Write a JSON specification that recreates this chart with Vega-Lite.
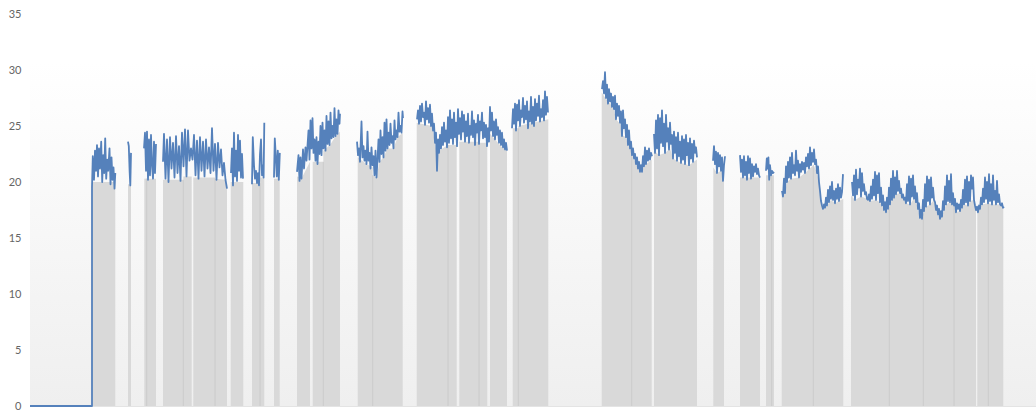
{
"$schema": "https://vega.github.io/schema/vega-lite/v6.json",
"width": 1006, "height": 392,
"autosize": {"type": "none"},
"padding": {"left": 30, "top": 14, "right": 0, "bottom": 4},
"background": "#ffffff",
"config": {"view": {"stroke": null}, "axis": {"labelFont": "Lato", "labelFontSize": 11, "labelColor": "#666666"}},
"datasets": {
"grey": [
{"b":1,"x":62,"g":20.0},{"b":1,"x":85.3,"g":20.0},
{"b":2,"x":98,"g":19.8},{"b":2,"x":101,"g":19.8},
{"b":3,"x":114.3,"g":20.3},{"b":3,"x":116.7,"g":20.3},
{"b":4,"x":116.7,"g":20.3},{"b":4,"x":126,"g":20.3},
{"b":5,"x":133,"g":20.2},{"b":5,"x":153.3,"g":20.2},
{"b":6,"x":153.3,"g":20.5},{"b":6,"x":161.7,"g":20.5},
{"b":7,"x":163.3,"g":20.4},{"b":7,"x":185,"g":20.4},
{"b":8,"x":185,"g":20.3},{"b":8,"x":195,"g":20.2},{"b":8,"x":197,"g":19.4},
{"b":9,"x":200.7,"g":20.0},{"b":9,"x":213.3,"g":20.0},
{"b":10,"x":222,"g":19.9},{"b":10,"x":230,"g":19.9},
{"b":11,"x":230,"g":20.4},{"b":11,"x":234.3,"g":20.4},
{"b":12,"x":244,"g":20.3},{"b":12,"x":249.7,"g":20.3},
{"b":13,"x":267,"g":20.5},{"b":13,"x":272,"g":20.4},{"b":13,"x":280,"g":21.8},
{"b":14,"x":282.7,"g":21.8},{"b":14,"x":293.3,"g":21.8},
{"b":15,"x":293.3,"g":22.8},{"b":15,"x":300,"g":23.3},{"b":15,"x":305,"g":24.0},{"b":15,"x":310,"g":24.5},
{"b":16,"x":327.7,"g":22.2},{"b":16,"x":335,"g":21.7},{"b":16,"x":342.7,"g":21.3},
{"b":17,"x":342.7,"g":20.6},{"b":17,"x":346.5,"g":20.4},{"b":17,"x":349.5,"g":21.8},{"b":17,"x":353.5,"g":22.2},{"b":17,"x":357.5,"g":23.0},{"b":17,"x":363.5,"g":23.0},{"b":17,"x":367.5,"g":24.0},{"b":17,"x":372.7,"g":24.4},
{"b":18,"x":386.7,"g":25.3},{"b":18,"x":402,"g":25.0},{"b":18,"x":404,"g":24.0},{"b":18,"x":406,"g":23.0},{"b":18,"x":409,"g":22.8},{"b":18,"x":418,"g":23.3},
{"b":19,"x":418,"g":23.3},{"b":19,"x":426.7,"g":23.3},
{"b":20,"x":429.3,"g":23.6},{"b":20,"x":449,"g":23.6},
{"b":21,"x":449,"g":23.5},{"b":21,"x":457.3,"g":23.5},
{"b":22,"x":460,"g":24.3},{"b":22,"x":465,"g":23.8},{"b":22,"x":471,"g":23.2},{"b":22,"x":477,"g":22.8},
{"b":23,"x":482.7,"g":24.8},{"b":23,"x":488.3,"g":24.8},
{"b":24,"x":488.3,"g":25.0},{"b":24,"x":518.3,"g":25.6},
{"b":25,"x":571.7,"g":28.0},{"b":25,"x":576,"g":27.4},{"b":25,"x":580,"g":27.0},{"b":25,"x":584,"g":26.4},{"b":25,"x":586,"g":25.6},{"b":25,"x":590,"g":25.2},{"b":25,"x":592,"g":24.2},{"b":25,"x":596,"g":24.0},{"b":25,"x":598,"g":23.3},{"b":25,"x":601.7,"g":22.8},
{"b":26,"x":601.7,"g":22.4},{"b":26,"x":604,"g":22.0},{"b":26,"x":606,"g":21.6},{"b":26,"x":608,"g":21.2},{"b":26,"x":610,"g":20.9},{"b":26,"x":612,"g":20.9},{"b":26,"x":614,"g":21.4},{"b":26,"x":621.7,"g":22.0},
{"b":27,"x":624,"g":22.8},{"b":27,"x":629,"g":22.4},{"b":27,"x":635,"g":22.6},{"b":27,"x":640,"g":23.0},{"b":27,"x":643,"g":22.1},{"b":27,"x":647,"g":21.9},{"b":27,"x":651,"g":21.7},{"b":27,"x":655,"g":21.6},{"b":27,"x":659,"g":21.5},{"b":27,"x":667,"g":22.0},
{"b":28,"x":683.3,"g":21.3},{"b":28,"x":687,"g":20.8},{"b":28,"x":691,"g":21.0},{"b":28,"x":694,"g":20.5},
{"b":29,"x":710,"g":20.4},{"b":29,"x":730,"g":20.4},
{"b":30,"x":736,"g":20.6},{"b":30,"x":741.7,"g":20.6},
{"b":31,"x":741.7,"g":20.6},{"b":31,"x":744,"g":20.6},
{"b":32,"x":751.7,"g":18.8},{"b":32,"x":755,"g":19.0},{"b":32,"x":757,"g":20.0},{"b":32,"x":761,"g":20.3},{"b":32,"x":769,"g":20.4},{"b":32,"x":775,"g":20.8},{"b":32,"x":783.3,"g":21.5},
{"b":33,"x":783.3,"g":21.6},{"b":33,"x":787,"g":20.8},{"b":33,"x":789,"g":20.0},{"b":33,"x":791,"g":18.3},{"b":33,"x":793,"g":17.6},{"b":33,"x":797,"g":17.9},{"b":33,"x":801,"g":18.4},{"b":33,"x":805,"g":18.1},{"b":33,"x":813.3,"g":18.5},
{"b":34,"x":821,"g":18.8},{"b":34,"x":825,"g":18.4},{"b":34,"x":831,"g":18.7},{"b":34,"x":837,"g":18.5},{"b":34,"x":840,"g":18.3},{"b":34,"x":846,"g":18.4},{"b":34,"x":850,"g":18.2},{"b":34,"x":854,"g":17.5},{"b":34,"x":856,"g":17.3},{"b":34,"x":859.3,"g":17.8},
{"b":35,"x":859.3,"g":18.0},{"b":35,"x":862,"g":18.4},{"b":35,"x":866,"g":18.9},{"b":35,"x":870,"g":19.0},{"b":35,"x":874,"g":18.4},{"b":35,"x":876,"g":18.1},{"b":35,"x":880,"g":18.0},{"b":35,"x":884,"g":18.5},{"b":35,"x":886,"g":18.2},{"b":35,"x":888,"g":17.6},{"b":35,"x":890,"g":16.8},{"b":35,"x":892,"g":16.7},{"b":35,"x":893.3,"g":17.2},
{"b":36,"x":893.3,"g":17.4},{"b":36,"x":896,"g":17.8},{"b":36,"x":900,"g":18.0},{"b":36,"x":904,"g":18.4},{"b":36,"x":906,"g":17.5},{"b":36,"x":908,"g":17.1},{"b":36,"x":910,"g":16.7},{"b":36,"x":912,"g":16.9},{"b":36,"x":916,"g":18.0},{"b":36,"x":920,"g":18.2},{"b":36,"x":924,"g":17.9},
{"b":37,"x":924,"g":17.9},{"b":37,"x":926,"g":17.3},{"b":37,"x":930,"g":17.4},{"b":37,"x":934,"g":18.0},{"b":37,"x":938,"g":17.9},{"b":37,"x":940,"g":18.3},{"b":37,"x":944,"g":18.4},{"b":37,"x":946,"g":17.5},
{"b":38,"x":947.3,"g":17.8},{"b":38,"x":948,"g":17.3},{"b":38,"x":952,"g":18.0},{"b":38,"x":958.3,"g":18.1},
{"b":39,"x":958.3,"g":18.1},{"b":39,"x":962,"g":18.0},{"b":39,"x":966,"g":18.0},{"b":39,"x":970,"g":18.0},{"b":39,"x":973.3,"g":17.7}
],
"div": [
{"x":116.7,"g":20.3},{"x":153.3,"g":20.2},{"x":185,"g":20.3},{"x":230,"g":19.9},{"x":293.3,"g":21.8},{"x":342.7,"g":20.6},{"x":418,"g":23.3},{"x":449,"g":23.5},{"x":488.3,"g":24.8},{"x":601.7,"g":22.4},{"x":741.7,"g":20.6},{"x":783.3,"g":21.5},{"x":859.3,"g":17.8},{"x":893.3,"g":17.2},{"x":924,"g":17.9},{"x":958.3,"g":18.1}
],
"line": [
{"s":1,"x":0,"y":0},{"s":1,"x":62,"y":0},{"s":1,"x":62,"y":19.5},{"s":1,"x":62.8,"y":22.3},{"s":1,"x":64,"y":20.2},{"s":1,"x":65,"y":22.8},{"s":1,"x":66,"y":21.0},{"s":1,"x":67,"y":23.3},{"s":1,"x":68,"y":20.5},{"s":1,"x":69,"y":23.0},{"s":1,"x":70,"y":21.2},{"s":1,"x":71.2,"y":23.6},{"s":1,"x":72.2,"y":20.0},{"s":1,"x":73.2,"y":22.4},{"s":1,"x":74.2,"y":20.8},{"s":1,"x":75.2,"y":23.9},{"s":1,"x":76.2,"y":20.3},{"s":1,"x":77.2,"y":22.0},{"s":1,"x":78.2,"y":21.0},{"s":1,"x":79.5,"y":23.0},{"s":1,"x":80.5,"y":19.8},{"s":1,"x":81.5,"y":22.2},{"s":1,"x":82.5,"y":20.2},{"s":1,"x":83.5,"y":21.3},{"s":1,"x":84.5,"y":19.4},{"s":1,"x":85.3,"y":20.8},
{"s":2,"x":98,"y":23.6},{"s":2,"x":98.8,"y":23.2},{"s":2,"x":99.6,"y":21.0},{"s":2,"x":100.3,"y":19.7},{"s":2,"x":101,"y":22.6},
{"s":3,"x":114,"y":23.0},{"s":3,"x":115,"y":24.4},{"s":3,"x":116,"y":21.0},{"s":3,"x":117,"y":24.5},{"s":3,"x":118,"y":20.2},{"s":3,"x":119,"y":23.8},{"s":3,"x":120,"y":20.6},{"s":3,"x":121,"y":24.2},{"s":3,"x":122,"y":21.5},{"s":3,"x":123,"y":20.3},{"s":3,"x":124,"y":23.6},{"s":3,"x":125,"y":20.8},{"s":3,"x":126,"y":23.4},
{"s":4,"x":133,"y":21.8},{"s":4,"x":134,"y":24.3},{"s":4,"x":135.5,"y":20.3},{"s":4,"x":137,"y":23.8},{"s":4,"x":138.5,"y":20.0},{"s":4,"x":140,"y":24.0},{"s":4,"x":141.5,"y":21.2},{"s":4,"x":143,"y":23.5},{"s":4,"x":144.5,"y":20.4},{"s":4,"x":146,"y":24.1},{"s":4,"x":147.5,"y":20.8},{"s":4,"x":149,"y":23.2},{"s":4,"x":150.5,"y":20.1},{"s":4,"x":152,"y":24.4},{"s":4,"x":153.5,"y":21.4},{"s":4,"x":155,"y":24.7},{"s":4,"x":156.5,"y":20.5},{"s":4,"x":158,"y":24.6},{"s":4,"x":159.5,"y":21.9},{"s":4,"x":161,"y":23.0},{"s":4,"x":162.5,"y":22.0},{"s":4,"x":164,"y":24.2},{"s":4,"x":165.5,"y":20.6},{"s":4,"x":167,"y":23.7},{"s":4,"x":168.5,"y":20.3},{"s":4,"x":170,"y":24.0},{"s":4,"x":171.5,"y":21.0},{"s":4,"x":173,"y":23.6},{"s":4,"x":174.5,"y":20.5},{"s":4,"x":176,"y":23.8},{"s":4,"x":177.5,"y":21.2},{"s":4,"x":179,"y":23.1},{"s":4,"x":180.5,"y":20.8},{"s":4,"x":182,"y":24.8},{"s":4,"x":183.5,"y":21.0},{"s":4,"x":185,"y":23.4},{"s":4,"x":186.5,"y":20.2},{"s":4,"x":188,"y":23.5},{"s":4,"x":189.5,"y":21.3},{"s":4,"x":191,"y":22.9},{"s":4,"x":192.5,"y":20.6},{"s":4,"x":194,"y":21.7},{"s":4,"x":195.5,"y":20.2},{"s":4,"x":197,"y":19.4},
{"s":5,"x":201,"y":20.8},{"s":5,"x":202,"y":23.0},{"s":5,"x":203,"y":19.7},{"s":5,"x":204,"y":24.4},{"s":5,"x":205,"y":20.5},{"s":5,"x":206,"y":22.8},{"s":5,"x":207,"y":20.1},{"s":5,"x":208,"y":24.2},{"s":5,"x":209,"y":21.0},{"s":5,"x":210,"y":23.7},{"s":5,"x":211,"y":20.4},{"s":5,"x":212,"y":22.5},{"s":5,"x":213,"y":20.3},
{"s":6,"x":222,"y":19.8},{"s":6,"x":222.8,"y":24.0},{"s":6,"x":224,"y":21.5},{"s":6,"x":225,"y":20.3},{"s":6,"x":226,"y":21.0},{"s":6,"x":227,"y":19.9},{"s":6,"x":228,"y":20.8},{"s":6,"x":229,"y":19.7},{"s":6,"x":230,"y":22.5},{"s":6,"x":231,"y":23.8},{"s":6,"x":232,"y":20.6},{"s":6,"x":233,"y":21.5},{"s":6,"x":233.6,"y":20.4},{"s":6,"x":234.3,"y":25.3},
{"s":7,"x":244,"y":20.4},{"s":7,"x":244.8,"y":23.9},{"s":7,"x":245.8,"y":22.3},{"s":7,"x":246.8,"y":20.5},{"s":7,"x":247.8,"y":22.8},{"s":7,"x":248.8,"y":20.2},{"s":7,"x":249.8,"y":22.6},
{"s":8,"x":267,"y":20.9},{"s":8,"x":268.5,"y":22.4},{"s":8,"x":269.5,"y":20.1},{"s":8,"x":270.5,"y":22.2},{"s":8,"x":271.5,"y":20.3},{"s":8,"x":273,"y":22.9},{"s":8,"x":274,"y":21.2},{"s":8,"x":275.5,"y":23.1},{"s":8,"x":276.5,"y":21.9},{"s":8,"x":278.5,"y":24.6},{"s":8,"x":279.5,"y":22.0},{"s":8,"x":280.5,"y":25.5},{"s":8,"x":281.5,"y":23.0},{"s":8,"x":282.5,"y":25.7},{"s":8,"x":283.5,"y":22.6},{"s":8,"x":284.5,"y":23.8},{"s":8,"x":285.5,"y":21.9},{"s":8,"x":286.5,"y":24.0},{"s":8,"x":287.5,"y":21.6},{"s":8,"x":288.5,"y":23.6},{"s":8,"x":289.5,"y":22.5},{"s":8,"x":290.5,"y":25.0},{"s":8,"x":291.5,"y":22.4},{"s":8,"x":292.5,"y":25.3},{"s":8,"x":293.5,"y":23.0},{"s":8,"x":294.5,"y":24.6},{"s":8,"x":295.5,"y":22.8},{"s":8,"x":296.5,"y":25.9},{"s":8,"x":297.5,"y":23.4},{"s":8,"x":298.5,"y":25.4},{"s":8,"x":299.5,"y":23.3},{"s":8,"x":300.5,"y":26.2},{"s":8,"x":301.5,"y":23.9},{"s":8,"x":302.5,"y":25.0},{"s":8,"x":303.5,"y":24.0},{"s":8,"x":304.5,"y":26.6},{"s":8,"x":305.5,"y":24.1},{"s":8,"x":306.5,"y":25.6},{"s":8,"x":307.5,"y":24.3},{"s":8,"x":308.5,"y":26.4},{"s":8,"x":309.5,"y":25.2},{"s":8,"x":310,"y":26.1},
{"s":9,"x":327,"y":23.6},{"s":9,"x":328,"y":22.4},{"s":9,"x":329,"y":23.0},{"s":9,"x":330,"y":21.8},{"s":9,"x":331.5,"y":25.4},{"s":9,"x":332.5,"y":22.2},{"s":9,"x":333.5,"y":23.2},{"s":9,"x":334.5,"y":21.9},{"s":9,"x":335.5,"y":22.8},{"s":9,"x":336.5,"y":21.6},{"s":9,"x":337.5,"y":24.5},{"s":9,"x":338.5,"y":21.9},{"s":9,"x":339.5,"y":22.6},{"s":9,"x":340.5,"y":21.2},{"s":9,"x":341.5,"y":23.1},{"s":9,"x":342.5,"y":21.5},{"s":9,"x":343.5,"y":22.3},{"s":9,"x":344.5,"y":20.6},{"s":9,"x":345.5,"y":22.8},{"s":9,"x":346.5,"y":20.4},{"s":9,"x":347.5,"y":22.0},{"s":9,"x":348.5,"y":23.8},{"s":9,"x":349.5,"y":21.8},{"s":9,"x":350.5,"y":24.6},{"s":9,"x":351.5,"y":22.5},{"s":9,"x":352.5,"y":24.0},{"s":9,"x":353.5,"y":22.2},{"s":9,"x":354.5,"y":25.3},{"s":9,"x":355.5,"y":22.8},{"s":9,"x":356.5,"y":25.6},{"s":9,"x":357.5,"y":23.0},{"s":9,"x":358.5,"y":24.4},{"s":9,"x":359.5,"y":23.3},{"s":9,"x":360.5,"y":25.2},{"s":9,"x":361.5,"y":23.5},{"s":9,"x":362.5,"y":24.1},{"s":9,"x":363.5,"y":23.0},{"s":9,"x":364.5,"y":25.5},{"s":9,"x":365.5,"y":23.8},{"s":9,"x":366.5,"y":24.6},{"s":9,"x":367.5,"y":24.0},{"s":9,"x":368.5,"y":26.2},{"s":9,"x":369.5,"y":24.5},{"s":9,"x":370.5,"y":25.0},{"s":9,"x":371.5,"y":24.4},{"s":9,"x":372.5,"y":26.3},{"s":9,"x":373,"y":25.7},
{"s":10,"x":387,"y":25.6},{"s":10,"x":388,"y":26.4},{"s":10,"x":389,"y":25.2},{"s":10,"x":390,"y":26.8},{"s":10,"x":391,"y":25.4},{"s":10,"x":392,"y":27.0},{"s":10,"x":393,"y":25.8},{"s":10,"x":394,"y":26.2},{"s":10,"x":395,"y":25.1},{"s":10,"x":396,"y":27.2},{"s":10,"x":397,"y":25.6},{"s":10,"x":398,"y":26.6},{"s":10,"x":399,"y":25.3},{"s":10,"x":400,"y":26.9},{"s":10,"x":401,"y":25.0},{"s":10,"x":402,"y":26.1},{"s":10,"x":403,"y":24.6},{"s":10,"x":404,"y":25.2},{"s":10,"x":405,"y":23.5},{"s":10,"x":406,"y":24.4},{"s":10,"x":407,"y":21.0},{"s":10,"x":408,"y":23.8},{"s":10,"x":409,"y":22.6},{"s":10,"x":410,"y":24.2},{"s":10,"x":411,"y":23.0},{"s":10,"x":412,"y":24.9},{"s":10,"x":413,"y":23.3},{"s":10,"x":414,"y":25.3},{"s":10,"x":415,"y":23.6},{"s":10,"x":416,"y":24.6},{"s":10,"x":417,"y":23.1},{"s":10,"x":418,"y":25.8},{"s":10,"x":419,"y":23.5},{"s":10,"x":420,"y":26.4},{"s":10,"x":421,"y":23.9},{"s":10,"x":422,"y":25.6},{"s":10,"x":423,"y":23.4},{"s":10,"x":424,"y":26.2},{"s":10,"x":425,"y":24.0},{"s":10,"x":426,"y":25.3},{"s":10,"x":427,"y":23.2},{"s":10,"x":428,"y":26.5},{"s":10,"x":429,"y":24.3},{"s":10,"x":430,"y":25.7},{"s":10,"x":431,"y":23.8},{"s":10,"x":432,"y":26.3},{"s":10,"x":433,"y":24.5},{"s":10,"x":434,"y":26.0},{"s":10,"x":435,"y":23.6},{"s":10,"x":436,"y":25.4},{"s":10,"x":437,"y":24.1},{"s":10,"x":438,"y":26.1},{"s":10,"x":439,"y":23.5},{"s":10,"x":440,"y":25.0},{"s":10,"x":441,"y":24.2},{"s":10,"x":442,"y":26.3},{"s":10,"x":443,"y":24.0},{"s":10,"x":444,"y":25.5},{"s":10,"x":445,"y":23.3},{"s":10,"x":446,"y":25.2},{"s":10,"x":447,"y":24.4},{"s":10,"x":448,"y":26.0},{"s":10,"x":449,"y":23.4},{"s":10,"x":450,"y":25.4},{"s":10,"x":451,"y":24.6},{"s":10,"x":452,"y":26.2},{"s":10,"x":453,"y":23.9},{"s":10,"x":454,"y":25.3},{"s":10,"x":455,"y":24.0},{"s":10,"x":456,"y":25.1},{"s":10,"x":457,"y":23.2},{"s":10,"x":458,"y":24.8},{"s":10,"x":459,"y":23.6},{"s":10,"x":460,"y":26.7},{"s":10,"x":461,"y":24.6},{"s":10,"x":462,"y":26.2},{"s":10,"x":463,"y":24.1},{"s":10,"x":464,"y":25.4},{"s":10,"x":465,"y":23.8},{"s":10,"x":466,"y":25.6},{"s":10,"x":467,"y":24.2},{"s":10,"x":468,"y":24.9},{"s":10,"x":469,"y":23.5},{"s":10,"x":470,"y":24.6},{"s":10,"x":471,"y":23.3},{"s":10,"x":472,"y":24.4},{"s":10,"x":473,"y":23.1},{"s":10,"x":474,"y":23.8},{"s":10,"x":475,"y":22.9},{"s":10,"x":476,"y":23.5},{"s":10,"x":477,"y":22.8},
{"s":11,"x":482,"y":24.8},{"s":11,"x":483,"y":26.5},{"s":11,"x":484,"y":25.2},{"s":11,"x":485,"y":27.0},{"s":11,"x":486,"y":24.6},{"s":11,"x":487,"y":26.9},{"s":11,"x":488,"y":25.5},{"s":11,"x":489,"y":27.3},{"s":11,"x":490,"y":25.0},{"s":11,"x":491,"y":26.4},{"s":11,"x":492,"y":25.8},{"s":11,"x":493,"y":27.5},{"s":11,"x":494,"y":25.3},{"s":11,"x":495,"y":26.8},{"s":11,"x":496,"y":25.6},{"s":11,"x":497,"y":27.2},{"s":11,"x":498,"y":24.8},{"s":11,"x":499,"y":26.3},{"s":11,"x":500,"y":25.4},{"s":11,"x":501,"y":27.6},{"s":11,"x":502,"y":25.2},{"s":11,"x":503,"y":26.7},{"s":11,"x":504,"y":25.0},{"s":11,"x":505,"y":27.4},{"s":11,"x":506,"y":25.5},{"s":11,"x":507,"y":27.0},{"s":11,"x":508,"y":25.9},{"s":11,"x":509,"y":27.7},{"s":11,"x":510,"y":25.4},{"s":11,"x":511,"y":26.5},{"s":11,"x":512,"y":25.8},{"s":11,"x":513,"y":27.3},{"s":11,"x":514,"y":25.5},{"s":11,"x":515,"y":28.1},{"s":11,"x":516,"y":26.0},{"s":11,"x":517,"y":27.6},{"s":11,"x":518,"y":26.2},
{"s":12,"x":572,"y":28.3},{"s":12,"x":573,"y":29.0},{"s":12,"x":574,"y":27.9},{"s":12,"x":575,"y":29.8},{"s":12,"x":576,"y":27.5},{"s":12,"x":577,"y":28.7},{"s":12,"x":578,"y":27.0},{"s":12,"x":579,"y":28.3},{"s":12,"x":580,"y":27.2},{"s":12,"x":581,"y":27.9},{"s":12,"x":582,"y":26.7},{"s":12,"x":583,"y":27.6},{"s":12,"x":584,"y":26.5},{"s":12,"x":585,"y":27.7},{"s":12,"x":586,"y":25.6},{"s":12,"x":587,"y":27.0},{"s":12,"x":588,"y":25.9},{"s":12,"x":589,"y":26.8},{"s":12,"x":590,"y":25.3},{"s":12,"x":591,"y":26.3},{"s":12,"x":592,"y":24.1},{"s":12,"x":593,"y":26.4},{"s":12,"x":594,"y":24.8},{"s":12,"x":595,"y":25.6},{"s":12,"x":596,"y":24.0},{"s":12,"x":597,"y":25.1},{"s":12,"x":598,"y":23.3},{"s":12,"x":599,"y":24.6},{"s":12,"x":600,"y":23.0},{"s":12,"x":601,"y":23.6},{"s":12,"x":602,"y":22.4},{"s":12,"x":603,"y":23.0},{"s":12,"x":604,"y":22.1},{"s":12,"x":605,"y":22.5},{"s":12,"x":606,"y":21.6},{"s":12,"x":607,"y":22.2},{"s":12,"x":608,"y":21.2},{"s":12,"x":609,"y":21.8},{"s":12,"x":610,"y":20.9},{"s":12,"x":611,"y":21.5},{"s":12,"x":612,"y":20.9},{"s":12,"x":613,"y":22.3},{"s":12,"x":614,"y":21.4},{"s":12,"x":615,"y":23.1},{"s":12,"x":616,"y":21.6},{"s":12,"x":617,"y":22.8},{"s":12,"x":618,"y":21.9},{"s":12,"x":619,"y":23.0},{"s":12,"x":620,"y":22.0},{"s":12,"x":621,"y":22.6},{"s":12,"x":622,"y":22.3},
{"s":13,"x":624,"y":24.3},{"s":13,"x":625,"y":22.6},{"s":13,"x":626,"y":25.5},{"s":13,"x":627,"y":23.0},{"s":13,"x":628,"y":26.0},{"s":13,"x":629,"y":22.4},{"s":13,"x":630,"y":25.7},{"s":13,"x":631,"y":23.5},{"s":13,"x":632,"y":26.4},{"s":13,"x":633,"y":23.2},{"s":13,"x":634,"y":25.2},{"s":13,"x":635,"y":22.6},{"s":13,"x":636,"y":26.0},{"s":13,"x":637,"y":23.6},{"s":13,"x":638,"y":24.8},{"s":13,"x":639,"y":22.9},{"s":13,"x":640,"y":25.3},{"s":13,"x":641,"y":23.4},{"s":13,"x":642,"y":24.2},{"s":13,"x":643,"y":22.1},{"s":13,"x":644,"y":24.5},{"s":13,"x":645,"y":22.6},{"s":13,"x":646,"y":24.0},{"s":13,"x":647,"y":21.9},{"s":13,"x":648,"y":24.4},{"s":13,"x":649,"y":22.3},{"s":13,"x":650,"y":23.6},{"s":13,"x":651,"y":21.7},{"s":13,"x":652,"y":24.1},{"s":13,"x":653,"y":22.0},{"s":13,"x":654,"y":23.8},{"s":13,"x":655,"y":21.6},{"s":13,"x":656,"y":24.2},{"s":13,"x":657,"y":22.4},{"s":13,"x":658,"y":23.5},{"s":13,"x":659,"y":21.5},{"s":13,"x":660,"y":23.9},{"s":13,"x":661,"y":22.1},{"s":13,"x":662,"y":23.4},{"s":13,"x":663,"y":21.8},{"s":13,"x":664,"y":23.7},{"s":13,"x":665,"y":22.6},{"s":13,"x":666,"y":23.1},{"s":13,"x":667,"y":22.2},
{"s":14,"x":683,"y":21.9},{"s":14,"x":684,"y":23.2},{"s":14,"x":685,"y":21.6},{"s":14,"x":686,"y":22.7},{"s":14,"x":687,"y":20.8},{"s":14,"x":688,"y":22.6},{"s":14,"x":689,"y":21.4},{"s":14,"x":690,"y":22.4},{"s":14,"x":691,"y":21.0},{"s":14,"x":692,"y":22.2},{"s":14,"x":693,"y":20.1},{"s":14,"x":694,"y":21.5},{"s":14,"x":695,"y":22.3},
{"s":15,"x":710,"y":22.4},{"s":15,"x":711,"y":20.9},{"s":15,"x":712,"y":22.0},{"s":15,"x":713,"y":20.4},{"s":15,"x":714,"y":22.3},{"s":15,"x":715,"y":20.6},{"s":15,"x":716,"y":21.8},{"s":15,"x":717,"y":20.2},{"s":15,"x":718,"y":22.3},{"s":15,"x":719,"y":20.8},{"s":15,"x":720,"y":22.1},{"s":15,"x":721,"y":20.3},{"s":15,"x":722,"y":21.6},{"s":15,"x":723,"y":20.5},{"s":15,"x":724,"y":21.4},{"s":15,"x":725,"y":20.9},{"s":15,"x":726,"y":21.6},{"s":15,"x":727,"y":20.7},{"s":15,"x":728,"y":21.2},{"s":15,"x":729,"y":20.6},{"s":15,"x":730,"y":20.4},
{"s":16,"x":736,"y":21.0},{"s":16,"x":736.8,"y":22.1},{"s":16,"x":737.6,"y":21.2},{"s":16,"x":738.4,"y":22.2},{"s":16,"x":739.2,"y":20.2},{"s":16,"x":740,"y":21.5},{"s":16,"x":741,"y":20.6},{"s":16,"x":742,"y":21.0},{"s":16,"x":743,"y":20.8},{"s":16,"x":744,"y":20.9},
{"s":17,"x":752,"y":19.2},{"s":17,"x":753,"y":18.7},{"s":17,"x":754,"y":20.3},{"s":17,"x":755,"y":19.0},{"s":17,"x":756,"y":21.4},{"s":17,"x":757,"y":20.0},{"s":17,"x":758,"y":21.8},{"s":17,"x":759,"y":20.4},{"s":17,"x":760,"y":22.2},{"s":17,"x":761,"y":20.3},{"s":17,"x":762,"y":22.6},{"s":17,"x":763,"y":20.8},{"s":17,"x":764,"y":21.5},{"s":17,"x":765,"y":20.6},{"s":17,"x":766,"y":22.8},{"s":17,"x":767,"y":21.0},{"s":17,"x":768,"y":21.9},{"s":17,"x":769,"y":20.4},{"s":17,"x":770,"y":21.6},{"s":17,"x":771,"y":20.9},{"s":17,"x":772,"y":21.8},{"s":17,"x":773,"y":21.1},{"s":17,"x":774,"y":21.7},{"s":17,"x":775,"y":20.8},{"s":17,"x":776,"y":22.2},{"s":17,"x":777,"y":21.4},{"s":17,"x":778,"y":22.5},{"s":17,"x":779,"y":21.2},{"s":17,"x":780,"y":23.1},{"s":17,"x":781,"y":21.5},{"s":17,"x":782,"y":22.6},{"s":17,"x":783,"y":21.8},{"s":17,"x":784,"y":22.9},{"s":17,"x":785,"y":21.6},{"s":17,"x":786,"y":22.0},{"s":17,"x":787,"y":20.8},{"s":17,"x":788,"y":21.4},{"s":17,"x":789,"y":20.0},{"s":17,"x":790,"y":19.2},{"s":17,"x":791,"y":18.3},{"s":17,"x":792,"y":17.9},{"s":17,"x":793,"y":17.6},{"s":17,"x":794,"y":18.0},{"s":17,"x":795,"y":17.7},{"s":17,"x":796,"y":18.6},{"s":17,"x":797,"y":17.9},{"s":17,"x":798,"y":19.3},{"s":17,"x":799,"y":18.2},{"s":17,"x":800,"y":19.6},{"s":17,"x":801,"y":18.5},{"s":17,"x":802,"y":20.0},{"s":17,"x":803,"y":18.4},{"s":17,"x":804,"y":19.2},{"s":17,"x":805,"y":18.1},{"s":17,"x":806,"y":19.4},{"s":17,"x":807,"y":18.5},{"s":17,"x":808,"y":19.8},{"s":17,"x":809,"y":18.3},{"s":17,"x":810,"y":19.5},{"s":17,"x":811,"y":18.6},{"s":17,"x":812,"y":19.1},{"s":17,"x":813,"y":20.7},
{"s":18,"x":822,"y":20.0},{"s":18,"x":823,"y":18.8},{"s":18,"x":824,"y":20.6},{"s":18,"x":825,"y":18.4},{"s":18,"x":826,"y":21.1},{"s":18,"x":827,"y":18.9},{"s":18,"x":828,"y":20.2},{"s":18,"x":829,"y":19.5},{"s":18,"x":830,"y":21.2},{"s":18,"x":831,"y":18.7},{"s":18,"x":832,"y":20.8},{"s":18,"x":833,"y":19.2},{"s":18,"x":834,"y":19.8},{"s":18,"x":835,"y":18.9},{"s":18,"x":836,"y":19.1},{"s":18,"x":837,"y":18.5},{"s":18,"x":838,"y":18.4},{"s":18,"x":839,"y":18.9},{"s":18,"x":840,"y":18.3},{"s":18,"x":841,"y":19.6},{"s":18,"x":842,"y":18.5},{"s":18,"x":843,"y":20.2},{"s":18,"x":844,"y":18.8},{"s":18,"x":845,"y":20.9},{"s":18,"x":846,"y":18.4},{"s":18,"x":847,"y":20.6},{"s":18,"x":848,"y":19.0},{"s":18,"x":849,"y":20.8},{"s":18,"x":850,"y":18.2},{"s":18,"x":851,"y":19.5},{"s":18,"x":852,"y":17.9},{"s":18,"x":853,"y":18.8},{"s":18,"x":854,"y":17.5},{"s":18,"x":855,"y":18.2},{"s":18,"x":856,"y":17.3},{"s":18,"x":857,"y":18.6},{"s":18,"x":858,"y":17.6},{"s":18,"x":859,"y":19.5},{"s":18,"x":860,"y":18.0},{"s":18,"x":861,"y":20.3},{"s":18,"x":862,"y":18.4},{"s":18,"x":863,"y":21.0},{"s":18,"x":864,"y":18.6},{"s":18,"x":865,"y":20.4},{"s":18,"x":866,"y":18.9},{"s":18,"x":867,"y":21.0},{"s":18,"x":868,"y":19.2},{"s":18,"x":869,"y":20.1},{"s":18,"x":870,"y":19.0},{"s":18,"x":871,"y":19.4},{"s":18,"x":872,"y":18.6},{"s":18,"x":873,"y":18.9},{"s":18,"x":874,"y":18.4},{"s":18,"x":875,"y":18.6},{"s":18,"x":876,"y":18.1},{"s":18,"x":877,"y":19.8},{"s":18,"x":878,"y":18.3},{"s":18,"x":879,"y":20.5},{"s":18,"x":880,"y":18.0},{"s":18,"x":881,"y":20.3},{"s":18,"x":882,"y":18.7},{"s":18,"x":883,"y":20.6},{"s":18,"x":884,"y":18.5},{"s":18,"x":885,"y":19.6},{"s":18,"x":886,"y":18.2},{"s":18,"x":887,"y":19.0},{"s":18,"x":888,"y":17.6},{"s":18,"x":889,"y":18.1},{"s":18,"x":890,"y":16.8},{"s":18,"x":891,"y":17.5},{"s":18,"x":892,"y":16.7},{"s":18,"x":893,"y":18.4},{"s":18,"x":894,"y":17.4},{"s":18,"x":895,"y":19.8},{"s":18,"x":896,"y":17.8},{"s":18,"x":897,"y":20.5},{"s":18,"x":898,"y":18.3},{"s":18,"x":899,"y":20.2},{"s":18,"x":900,"y":18.0},{"s":18,"x":901,"y":20.4},{"s":18,"x":902,"y":18.6},{"s":18,"x":903,"y":19.5},{"s":18,"x":904,"y":18.4},{"s":18,"x":905,"y":18.2},{"s":18,"x":906,"y":17.5},{"s":18,"x":907,"y":17.9},{"s":18,"x":908,"y":17.1},{"s":18,"x":909,"y":17.6},{"s":18,"x":910,"y":16.7},{"s":18,"x":911,"y":17.4},{"s":18,"x":912,"y":16.9},{"s":18,"x":913,"y":18.3},{"s":18,"x":914,"y":17.5},{"s":18,"x":915,"y":19.6},{"s":18,"x":916,"y":18.0},{"s":18,"x":917,"y":20.6},{"s":18,"x":918,"y":18.3},{"s":18,"x":919,"y":20.1},{"s":18,"x":920,"y":18.2},{"s":18,"x":921,"y":20.7},{"s":18,"x":922,"y":18.0},{"s":18,"x":923,"y":19.0},{"s":18,"x":924,"y":17.9},{"s":18,"x":925,"y":18.5},{"s":18,"x":926,"y":17.3},{"s":18,"x":927,"y":18.1},{"s":18,"x":928,"y":17.6},{"s":18,"x":929,"y":18.0},{"s":18,"x":930,"y":17.4},{"s":18,"x":931,"y":18.4},{"s":18,"x":932,"y":17.7},{"s":18,"x":933,"y":19.3},{"s":18,"x":934,"y":18.0},{"s":18,"x":935,"y":20.2},{"s":18,"x":936,"y":18.2},{"s":18,"x":937,"y":20.5},{"s":18,"x":938,"y":17.9},{"s":18,"x":939,"y":20.0},{"s":18,"x":940,"y":18.3},{"s":18,"x":941,"y":20.6},{"s":18,"x":942,"y":19.4},{"s":18,"x":943,"y":20.4},{"s":18,"x":944,"y":18.4},{"s":18,"x":945,"y":17.9},{"s":18,"x":946,"y":17.5},{"s":18,"x":947,"y":17.8},{"s":18,"x":948,"y":17.3},{"s":18,"x":949,"y":17.9},{"s":18,"x":950,"y":17.6},{"s":18,"x":951,"y":18.6},{"s":18,"x":952,"y":18.0},{"s":18,"x":953,"y":19.4},{"s":18,"x":954,"y":18.2},{"s":18,"x":955,"y":20.4},{"s":18,"x":956,"y":18.5},{"s":18,"x":957,"y":20.0},{"s":18,"x":958,"y":18.1},{"s":18,"x":959,"y":20.7},{"s":18,"x":960,"y":18.3},{"s":18,"x":961,"y":19.8},{"s":18,"x":962,"y":18.0},{"s":18,"x":963,"y":20.6},{"s":18,"x":964,"y":18.4},{"s":18,"x":965,"y":19.2},{"s":18,"x":966,"y":18.0},{"s":18,"x":967,"y":20.1},{"s":18,"x":968,"y":18.2},{"s":18,"x":969,"y":18.9},{"s":18,"x":970,"y":18.0},{"s":18,"x":971,"y":17.9},{"s":18,"x":972,"y":18.1},{"s":18,"x":973,"y":17.7},{"s":18,"x":974,"y":17.8}
]
},
"layer": [
{
"data": {"values": [{}]},
"mark": {"type": "rect", "fill": {"gradient": "linear", "x1": 0, "y1": 0, "x2": 0, "y2": 1, "stops": [{"offset": 0, "color": "#ffffff"}, {"offset": 0.12, "color": "#ffffff"}, {"offset": 1, "color": "#efefef"}]}},
"encoding": {
"x": {"datum": 0, "type": "quantitative", "scale": {"domain": [0, 1006], "nice": false, "zero": false}, "axis": {"title": null, "labels": false, "ticks": false, "grid": false, "domain": true, "domainColor": "#e4e4e4"}},
"x2": {"datum": 1006},
"y": {"datum": 0, "type": "quantitative", "scale": {"domain": [0, 35], "nice": false}, "axis": {"title": null, "values": [0,5,10,15,20,25,30,35], "grid": false, "domain": false, "ticks": false, "labelPadding": 9}},
"y2": {"datum": 35}
}
},
{
"data": {"name": "grey"},
"mark": {"type": "area", "color": "#d9d9d9", "opacity": 1},
"encoding": {
"x": {"field": "x", "type": "quantitative"},
"y": {"field": "g", "type": "quantitative", "stack": null},
"detail": {"field": "b", "type": "nominal"}
}
},
{
"data": {"name": "div"},
"mark": {"type": "rule", "color": "#cacaca", "strokeWidth": 1},
"encoding": {
"x": {"field": "x", "type": "quantitative"},
"y": {"field": "g", "type": "quantitative"},
"y2": {"datum": 0}
}
},
{
"data": {"name": "line"},
"mark": {"type": "line", "color": "#5581bb", "strokeWidth": 1.8, "strokeJoin": "round"},
"encoding": {
"x": {"field": "x", "type": "quantitative"},
"y": {"field": "y", "type": "quantitative"},
"detail": {"field": "s", "type": "nominal"}
}
}
]
}
